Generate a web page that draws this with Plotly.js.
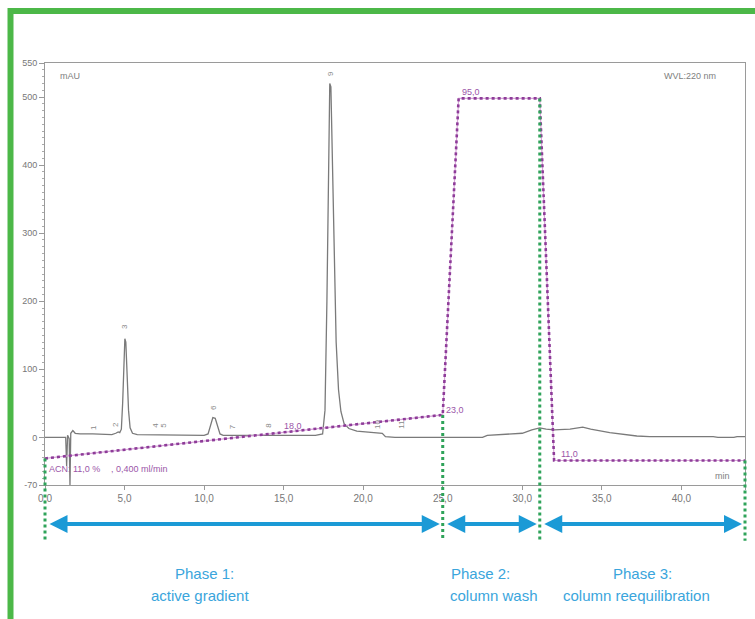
<!DOCTYPE html>
<html><head><meta charset="utf-8">
<script src="https://cdn.plot.ly/plotly-3.0.1.min.js"></script>
<style>html,body{margin:0;padding:0;background:#fff;} #chart{width:755px;height:619px;}</style>
</head><body><div id="chart"></div>
<script>
// ---- Chromatogram: retention time (min) and detector signal (mAU)
const time = [0.0, 0.5, 1.0, 1.30, 1.36, 1.42, 1.52, 1.57, 1.62, 1.75, 1.9, 2.2, 3.0, 4.2, 4.45, 4.6, 4.7, 4.8, 4.88, 4.95, 5.02, 5.08, 5.15, 5.25, 5.35, 5.5, 5.8, 8.0, 10.0, 10.25, 10.4, 10.55, 10.7, 10.85, 11.0, 11.2, 14.0, 17.0, 17.45, 17.6, 17.72, 17.82, 17.9, 17.97, 18.05, 18.15, 18.3, 18.45, 18.6, 18.8, 19.1, 19.6, 20.4, 21.2, 21.4, 22.0, 25.0, 27.5, 27.8, 29.0, 30.0, 30.6, 31.1, 31.5, 32.0, 33.0, 33.8, 34.3, 35.5, 37.2, 38.0, 42.0, 42.3, 43.3, 43.5, 44.0];
const signal = [0, 0, 0.5, 0, -42, 3, -2, -70, 6, 10, 6, 5, 5, 4, 6, 8, 7, 12, 50, 110, 145, 140, 95, 40, 14, 6, 4, 3, 3, 5, 18, 29, 28, 15, 5, 3, 3, 3, 5, 40, 200, 430, 520, 515, 420, 280, 140, 70, 38, 20, 13, 9, 7, 6, 1, 0, 0, 0, 3, 5, 6, 11, 14, 12, 11, 12, 15, 12, 7, 2, 1, 1, 0, 0, 1, 1];

// ---- Gradient programme, drawn on the mAU scale
const gradTime = [0, 25, 26.0, 31.1, 32.0, 44];
const gradLevel = [-31, 33, 498, 498, -34, -34];
const gradLabels = ["ACN: 11,0 %", ", 0,400 ml/min", "18,0", "23,0", "95,0", "11,0"];
const gradLabelTime = [0.1, 4.0, 14.9, 25.1, 26.1, 32.3];
const gradLabelLevel = [-47, -47, 16, 40, 507, -25];

// ---- Peak numbers
const peakNumbers = ["1", "2", "3", "4", "5", "6", "7", "8", "9", "10", "11"];
const peakTimes = [3.0, 4.4, 5.0, 6.9, 7.4, 10.6, 11.8, 14.0, 17.9, 20.9, 22.4];
const peakLabelLevel = [15, 18, 163, 18, 18, 44, 16, 18, 535, 19, 19];

// ---- Axes
const xTickVals = [0, 5, 10, 15, 20, 25, 30, 35, 40, 44];
const xTickText = ["0,0", "5,0", "10,0", "15,0", "20,0", "25,0", "30,0", "35,0", "40,0", "44,0"];
const yTickVals = [-70, 0, 100, 200, 300, 400, 500, 550];
const yTickText = ["-70", "0", "100", "200", "300", "400", "500", "550"];

// ---- Phases
const phaseBounds = [0, 25, 31.1, 44];
const phaseTitles = ["Phase 1:", "Phase 2:", "Phase 3:"];
const phaseDescriptions = ["active gradient", "column wash", "column reequilibration"];

// ---- positions of text (layout only)
const phaseTitleX = [10.0, 27.4, 37.55];
const phaseDescX = [9.75, 28.2, 37.2];

const Y0 = -70, Y1 = 550, X0 = 0, X1 = 44;
const yPaper = v => (v - Y0) / (Y1 - Y0);
function interp(xs, ys, t) {
  for (let i = 0; i < xs.length - 1; i++) {
    if (t >= xs[i] && t <= xs[i + 1]) {
      const f = (t - xs[i]) / (xs[i + 1] - xs[i]);
      return ys[i] + f * (ys[i + 1] - ys[i]);
    }
  }
  return ys[ys.length - 1];
}

const FONT = "Liberation Sans, Arial, sans-serif";
const GREY = "#7a7a7a";
const PURPLE = "#8e3c99";
const BLUE = "#1b9ad6";
const BLUE_TXT = "#3aa5dc";
const GREEN = "#2fa35a";

const traces = [
  {x: time, y: signal, type: "scatter", mode: "lines",
   line: {color: "#7a7a7a", width: 1.3}, hoverinfo: "skip"},
  {x: gradTime, y: gradLevel, type: "scatter", mode: "lines",
   line: {color: "#d7a6d8", width: 1.2}, hoverinfo: "skip"},
  {x: gradTime, y: gradLevel, type: "scatter", mode: "lines",
   line: {color: PURPLE, width: 2.6, dash: "dot"}, hoverinfo: "skip"}
];

const shapes = [];
// green frame (top + left)
const fl = (10.5 - 45) / 700, ft = (485 - 11) / 422;
shapes.push({type: "path", xref: "paper", yref: "paper",
  path: `M ${fl},-0.4 L ${fl},${ft} L 1.05,${ft}`,
  line: {color: "#4cb848", width: 6}});
// green dotted phase boundaries
phaseBounds.forEach(t => {
  shapes.push({type: "line", xref: "paper", yref: "paper",
    x0: (t - X0) / (X1 - X0), x1: (t - X0) / (X1 - X0),
    y0: yPaper(interp(gradTime, gradLevel, t)), y1: -0.132,
    line: {color: GREEN, width: 3, dash: "dot"}});
});

const annotations = [];
// phase arrows
const arrowY = (485 - 524) / 422;
for (let i = 0; i < phaseTitles.length; i++) {
  annotations.push({xref: "x", yref: "paper", axref: "x", ayref: "pixel",
    x: phaseBounds[i + 1], y: arrowY, ax: phaseBounds[i], ay: 0,
    text: "", showarrow: true, arrowside: "end+start",
    arrowhead: 2, startarrowhead: 2, arrowsize: 0.9, startarrowsize: 0.9,
    arrowwidth: 4, arrowcolor: BLUE, standoff: 3, startstandoff: 3});
  annotations.push({xref: "x", yref: "paper", x: phaseTitleX[i], y: (485 - 573) / 422,
    text: phaseTitles[i], showarrow: false, xanchor: "center", yanchor: "middle",
    font: {family: FONT, size: 15, color: BLUE_TXT}});
  annotations.push({xref: "x", yref: "paper", x: phaseDescX[i], y: (485 - 595) / 422,
    text: phaseDescriptions[i], showarrow: false, xanchor: "center", yanchor: "middle",
    font: {family: FONT, size: 15, color: BLUE_TXT}});
}
// peak numbers
peakNumbers.forEach((p, i) => {
  annotations.push({x: peakTimes[i], y: peakLabelLevel[i], text: p, showarrow: false,
    textangle: -90, font: {family: FONT, size: 8, color: "#8a8a8a"}});
});
// gradient labels
gradLabels.forEach((g, i) => {
  annotations.push({x: gradLabelTime[i], y: gradLabelLevel[i], text: g, showarrow: false,
    xanchor: "left", yanchor: "middle", font: {family: FONT, size: 9, color: "#9b55a8"}});
});
// chart texts
annotations.push({x: 0.8, y: 531, text: "mAU", showarrow: false, xanchor: "left",
  font: {family: FONT, size: 9, color: "#808080"}});
annotations.push({x: 42.3, y: 531, text: "WVL:220 nm", showarrow: false, xanchor: "right",
  font: {family: FONT, size: 9, color: "#808080"}});
annotations.push({x: 42.6, y: -57, text: "min", showarrow: false, xanchor: "center",
  font: {family: FONT, size: 9, color: "#808080"}});

const layout = {
  width: 755, height: 619,
  margin: {l: 45, r: 10, t: 63, b: 134, pad: 0},
  paper_bgcolor: "#ffffff", plot_bgcolor: "#ffffff",
  showlegend: false,
  font: {family: FONT, color: GREY},
  xaxis: {range: [X0, X1], tickmode: "array", tickvals: xTickVals, ticktext: xTickText,
    showline: true, linecolor: "#9a9a9a", linewidth: 1, mirror: true,
    ticks: "outside", ticklen: 4, tickcolor: "#999", showgrid: false, zeroline: false,
    tickfont: {family: FONT, size: 10, color: "#777"}},
  yaxis: {range: [Y0, Y1], tickmode: "array", tickvals: yTickVals, ticktext: yTickText,
    showline: true, linecolor: "#9a9a9a", linewidth: 1, mirror: true,
    ticks: "outside", ticklen: 5, tickcolor: "#999", showgrid: false, zeroline: false,
    minor: {tickmode: "linear", tick0: 0, dtick: 10, ticks: "outside", ticklen: 2.5, tickcolor: "#aaa"},
    tickfont: {family: FONT, size: 9, color: "#777"}},
  shapes: shapes,
  annotations: annotations
};

Plotly.newPlot("chart", traces, layout, {staticPlot: true, displayModeBar: false});
</script>
</body></html>
